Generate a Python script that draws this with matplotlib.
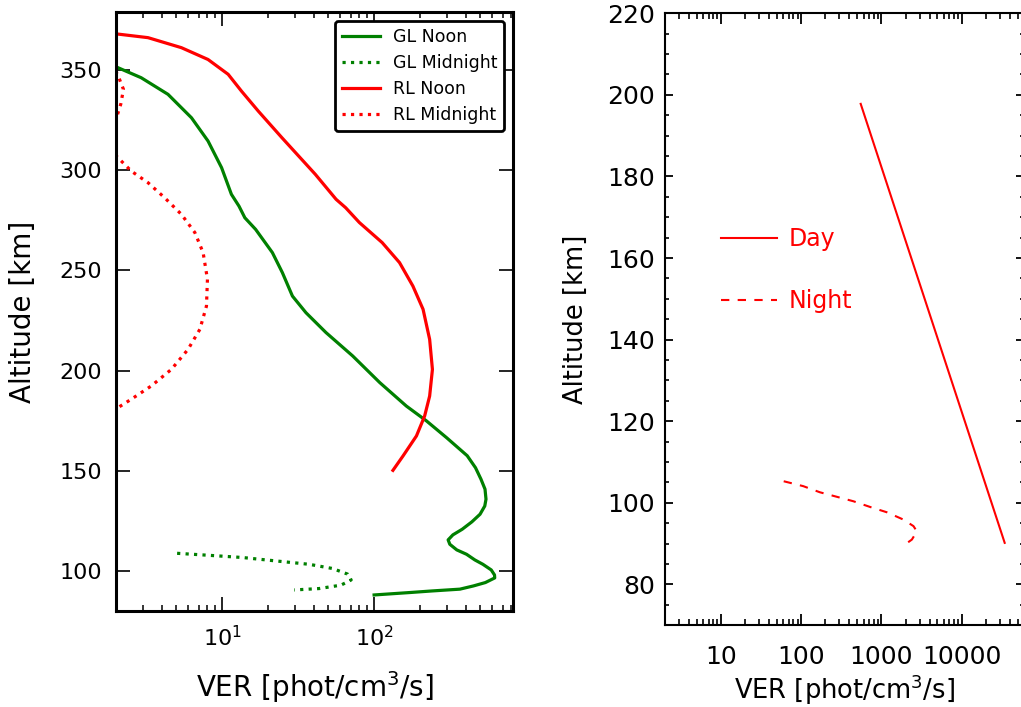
import matplotlib

matplotlib.use("Agg")
import matplotlib.pyplot as plt
import numpy as np
from matplotlib.ticker import LogLocator, FixedLocator, MultipleLocator, NullFormatter

# ---- left panel: model profiles (altitude km, VER phot/cm3/s) ----
gl_noon_alt = [354, 352, 346.2, 337.9, 326.2, 314.6, 301.3, 288, 282.1, 276.3,
               270.5, 258.9, 248.9, 237.2, 228.9, 219, 207.3, 194, 182.3, 174.9,
               166.5, 157.5, 151.5, 145.8, 140.8, 135.8, 132.4, 128.3, 124.5,
               120.8, 118, 115.5, 113.3, 110.5, 108.3, 105.5, 103.3, 100.5, 98,
               96.5, 94.2, 92.5, 90.9, 90, 89.2, 88.0]
gl_noon_ver = [1.8, 1.95, 2.93, 4.40, 6.28, 8.07, 9.91, 11.5, 12.9, 14.1,
               16.6, 21.4, 24.9, 29.0, 35.6, 48.2, 72.3, 109, 163, 221,
               300, 410, 465, 505, 537, 545, 535, 498, 440,
               380, 330, 307, 315, 350, 406, 460, 520, 590, 620,
               622, 540, 450, 367, 240, 171, 100]

gl_mid_alt = [108.8, 107.8, 106.7, 105.0, 103.3, 101.2, 98.4, 95.5, 92.9, 91.2, 90.5]
gl_mid_ver = [5.05, 8.16, 13.6, 22.5, 37.4, 53.3, 67, 70.6, 60.5, 43.5, 29.8]

rl_noon_alt = [369, 368.2, 366.2, 361.2, 355.3, 347.9, 339.5, 329.5, 316.3, 298,
               285.5, 281.3, 273.9, 263.9, 253.9, 242.2, 230.6, 215.6, 200.6,
               187.3, 177.3, 167.4, 157.4, 150.2]
rl_noon_ver = [1.8, 1.95, 3.25, 5.39, 8.07, 10.95, 13.4, 17.3, 24.7, 41.0,
               56.2, 65, 80, 113, 147, 180, 210, 232, 242,
               232, 215, 190, 155, 133]

rl_mid_alt = [353, 347.8, 340.4, 333, 325.4, 318, 312, 306.3, 299.6, 293.8,
              286.3, 278, 268.9, 258.9, 245.6, 232.2, 220.6, 210.6, 200.6,
              192.3, 185.7, 181.5, 179]
rl_mid_ver = [1.85, 2.05, 2.24, 2.15, 2.0, 1.7, 1.75, 2.06, 2.52, 3.25,
              4.18, 5.39, 6.61, 7.49, 8.00, 7.88, 7.13, 5.96, 4.63,
              3.41, 2.52, 2.06, 1.8]

# ---- right panel: day / night profiles ----
day_alt = [197.8, 90.2]
day_ver = [552, 34500]

night_alt = [105.3, 104.1, 102.6, 101.5, 100.4, 99.0, 97.7, 95.9, 94.3, 93.0, 91.0, 90.0]
night_ver = [60.5, 106, 171, 277, 447, 723, 1169, 1884, 2514, 2772, 2399, 2037]

fig = plt.figure(figsize=(10.21, 7.07), dpi=100)

# ---------------- left panel ----------------
ax1 = fig.add_axes([0.1136, 0.1358, 0.3888, 0.8472])
ax1.plot(gl_noon_ver, gl_noon_alt, color="green", lw=2.3, label="GL Noon")
ax1.plot(gl_mid_ver, gl_mid_alt, color="green", lw=2.3, ls=":", label="GL Midnight")
ax1.plot(rl_noon_ver, rl_noon_alt, color="red", lw=2.3, label="RL Noon")
ax1.plot(rl_mid_ver, rl_mid_alt, color="red", lw=2.3, ls=":", label="RL Midnight")
ax1.set_xscale("log")
ax1.set_xlim(2, 820)
ax1.set_ylim(80, 379)
ax1.yaxis.set_major_locator(FixedLocator([100, 150, 200, 250, 300, 350]))
for s in ax1.spines.values():
    s.set_linewidth(2.2)
ax1.tick_params(which="both", direction="in", top=True, right=True, labelsize=16)
ax1.tick_params(which="major", length=10, width=1.2, pad=10)
ax1.tick_params(which="minor", length=4.5, width=1.1)
ax1.set_xlabel("VER [phot/cm$^3$/s]", fontsize=20, labelpad=14)
ax1.set_ylabel("Altitude [km]", fontsize=20, labelpad=16)
leg = ax1.legend(loc="upper right", fontsize=12.5, handlelength=2.2,
                 handletextpad=0.75, labelspacing=0.47, borderaxespad=0.5,
                 fancybox=True, framealpha=1)
leg.get_frame().set_edgecolor("black")
leg.get_frame().set_linewidth(2)

# ---------------- right panel ----------------
ax2 = fig.add_axes([0.6513, 0.1156, 0.3516, 0.8656])
ax2.plot(day_ver, day_alt, color="red", lw=1.5, label="Day")
ax2.plot(night_ver, night_alt, color="red", lw=1.5, dashes=(4, 4), label="Night")
ax2.set_xscale("log")
ax2.set_xlim(2, 6e4)
ax2.set_ylim(70, 220)
ax2.xaxis.set_major_locator(FixedLocator([10, 100, 1000, 10000]))
ax2.xaxis.set_minor_locator(LogLocator(base=10, subs=np.arange(2, 10), numticks=20))
ax2.xaxis.set_minor_formatter(NullFormatter())
ax2.set_xticklabels(["10", "100", "1000", "10000"])
ax2.yaxis.set_major_locator(MultipleLocator(20))
ax2.yaxis.set_minor_locator(MultipleLocator(5))
for s in ax2.spines.values():
    s.set_linewidth(1.5)
ax2.tick_params(which="both", direction="in", top=True, right=True, labelsize=18)
ax2.tick_params(axis="x", which="major", length=8, width=1.3, pad=14)
ax2.tick_params(axis="x", which="minor", length=4.5, width=1.2)
ax2.tick_params(axis="y", which="major", length=5.5, width=1.3, pad=7)
ax2.tick_params(axis="y", which="minor", length=3, width=1.2)
ax2.set_xlabel("VER [phot/cm$^3$/s]", fontsize=18.5, labelpad=3)
ax2.set_ylabel("Altitude [km]", fontsize=18.5, labelpad=13)
leg2 = ax2.legend(loc="upper left", bbox_to_anchor=(0.097, 0.685), frameon=False,
                  fontsize=17, handlelength=2.35, handletextpad=0.5,
                  labelspacing=1.6, labelcolor="red")

fig.savefig("out.png", dpi=100)
